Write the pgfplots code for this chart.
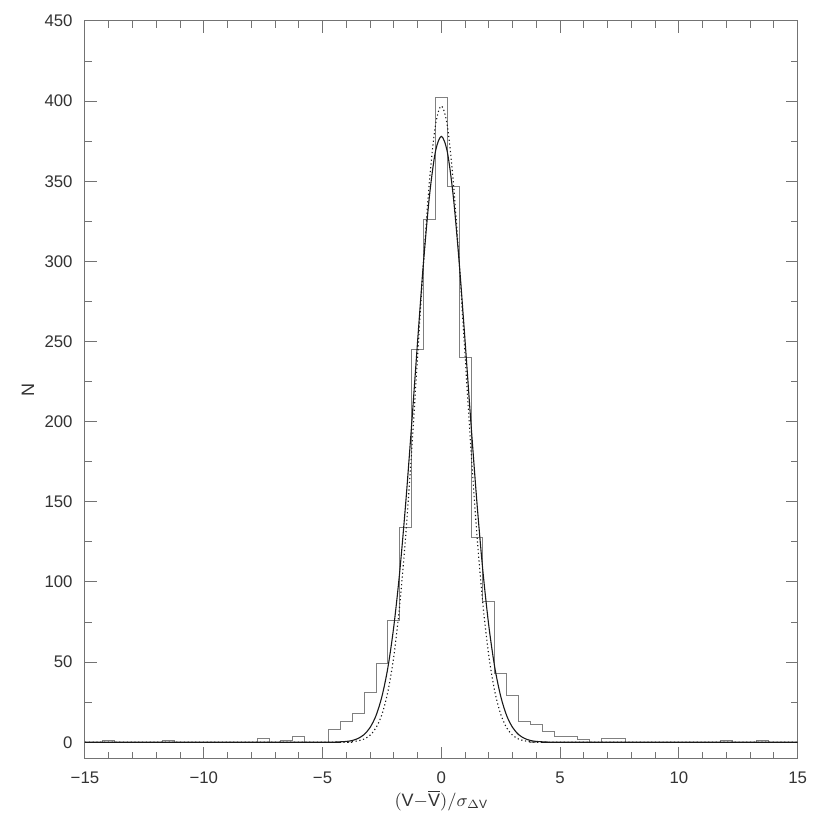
\documentclass[border=0pt]{standalone}
\usepackage{fontspec}
\setmainfont{Liberation Sans}
\usepackage{pgfplots}
\pgfplotsset{compat=1.18}

\begin{document}
\begin{tikzpicture}
\begin{axis}[
  name=ax,
  scale only axis, width=356.4pt, height=369pt,
  xmin=-15, xmax=15, ymin=-10.4, ymax=450,
  xtick={-15,-10,...,15}, xticklabels={−15,−10,−5,0,5,10,15},
  minor x tick num=4,
  ytick={0,50,...,450}, minor y tick num=1,
  tick align=inside, major tick length=6pt, minor tick length=3.5pt,
  axis line style={black!55, line width=0.5pt},
  tick style={black!55, line width=0.5pt},
  tick label style={font=\fontsize{8.4}{10}\selectfont, inner sep=0pt, text=black!80},
  xticklabel style={yshift=-6.3pt},
  yticklabel style={xshift=-6pt},
  /pgf/number format/assume math mode=true,
  xlabel={$(\mathrm{V}{-}\overline{\mathrm{V}})/\sigma_{\Delta\mathrm{V}}$},
  ylabel={N},
  label style={font=\fontsize{9}{11}\selectfont, text=black!80},
  xlabel style={at={(axis description cs:0.5,0)}, anchor=center, yshift=-21pt},
  ylabel style={at={(axis description cs:0,0.5)}, anchor=center, yshift=28.5pt},
]
% histogram, left bin edges (bin width 0.5)
\addplot[const plot, black!50, line width=0.5pt] coordinates {
  (-15,0) (-14.25,1) (-13.75,0) (-11.75,1) (-11.25,0)
  (-7.75,2.5) (-7.25,0) (-6.75,1) (-6.25,3.7) (-5.75,0)
  (-4.75,8) (-4.25,13) (-3.75,18) (-3.25,31) (-2.75,49) (-2.25,76)
  (-1.75,134) (-1.25,245) (-0.75,326) (-0.25,402) (0.25,347) (0.75,240)
  (1.25,128) (1.75,88) (2.25,43) (2.75,29) (3.25,13) (3.75,11)
  (4.25,7) (4.75,3.5) (5.75,2) (6.25,0) (6.75,2.5) (7.75,0)
  (11.75,1) (12.25,0) (13.25,1) (13.75,0) (15,0)
};
% solid curve
\addplot[smooth, black!90, line width=0.55pt] coordinates {
  (-15,0) (-5,0) (-4.5,0.1) (-4,0.5) (-3.75,1.1) (-3.5,2.4) (-3.25,4.8)
  (-3,9.2) (-2.75,16.6) (-2.5,28.6) (-2.25,46.6) (-2,72.4) (-1.75,106.6)
  (-1.5,149.2) (-1.25,198.2) (-1,250.1) (-0.75,299.6) (-0.5,340.9)
  (-0.25,368.4) (0,378) (0.25,368.4) (0.5,340.9) (0.75,299.6) (1,250.1)
  (1.25,198.2) (1.5,149.2) (1.75,106.6) (2,72.4) (2.25,46.6) (2.5,28.6)
  (2.75,16.6) (3,9.2) (3.25,4.8) (3.5,2.4) (3.75,1.1) (4,0.5) (4.5,0.1)
  (5,0) (15,0)
};
% dotted curve
\addplot[smooth, black!90, line width=0.55pt, dash pattern=on 0.6pt off 1.3pt] coordinates {
  (-15,0) (-4.5,0) (-4,0.1) (-3.75,0.35) (-3.5,0.9) (-3.25,2.0) (-3,4.4)
  (-2.75,9.0) (-2.5,17.4) (-2.25,31.6) (-2,53.7) (-1.75,85.9) (-1.5,128.9)
  (-1.25,181.7) (-1,240.8) (-0.75,299.7) (-0.5,350.3) (-0.25,384.8) (0,397)
  (0.25,384.8) (0.5,350.3) (0.75,299.7) (1,240.8) (1.25,181.7) (1.5,128.9)
  (1.75,85.9) (2,53.7) (2.25,31.6) (2.5,17.4) (2.75,9.0) (3,4.4) (3.25,2.0)
  (3.5,0.9) (3.75,0.35) (4,0.1) (4.5,0) (15,0)
};
\end{axis}
\path ([shift={(-42.5pt,-32.5pt)}]ax.south west) rectangle ([shift={(16.15pt,10.5pt)}]ax.north east);
\end{tikzpicture}
\end{document}
